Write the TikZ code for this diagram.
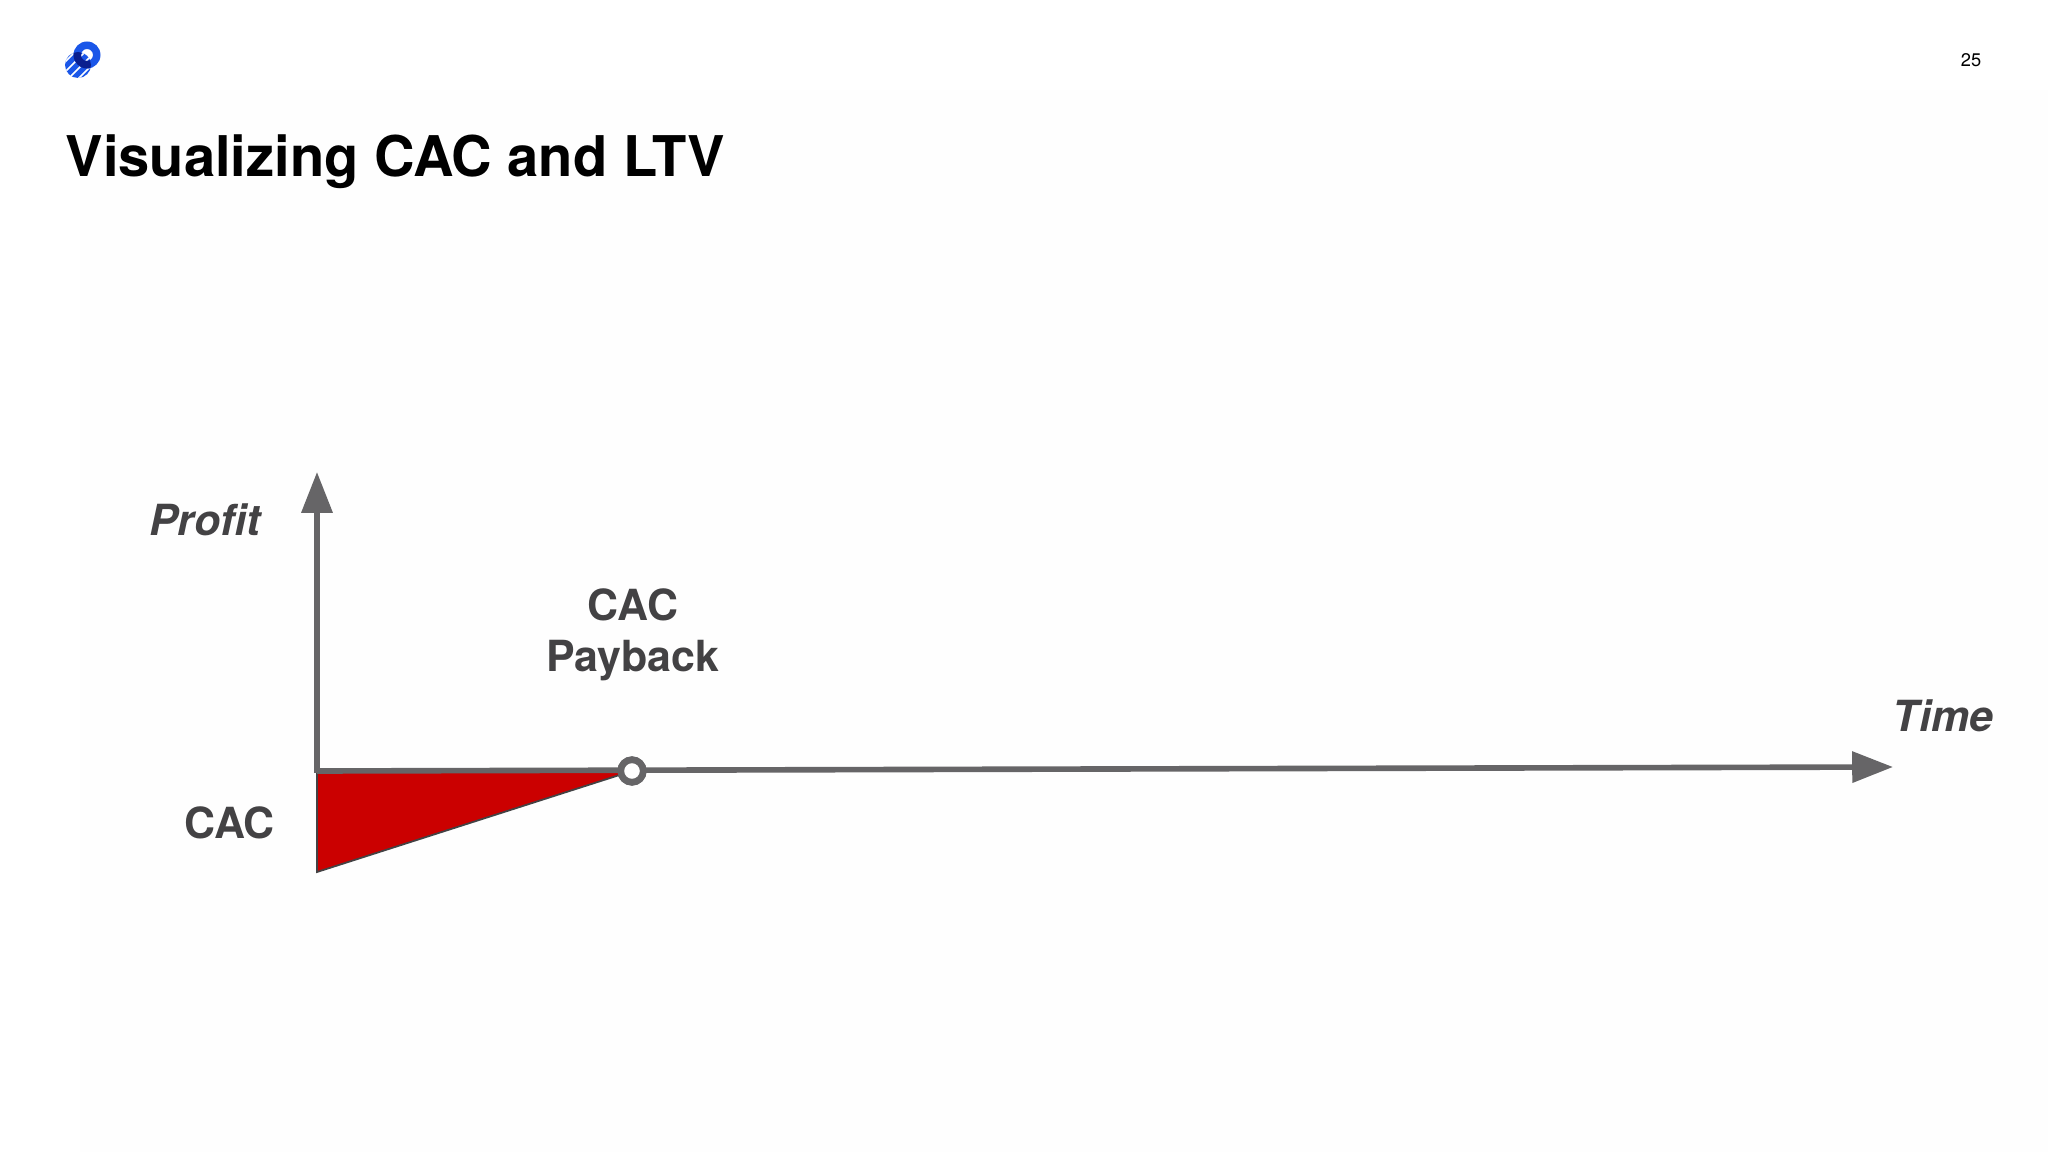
\documentclass[tikz,border=0pt]{standalone}
\usepackage{fontspec}
\setmainfont{TeX Gyre Heros}
\usetikzlibrary{arrows.meta}
\definecolor{axisgray}{HTML}{666567}
\definecolor{labelgray}{HTML}{434244}
\definecolor{cacred}{HTML}{CB0000}
\definecolor{logoblue}{HTML}{1A56E8}
\definecolor{logodark}{HTML}{0A1F8F}
\definecolor{slidegray}{HTML}{FEFEFE}
\tikzset{
  axis/.style = {draw = axisgray, line width = 1.6pt, -{Triangle[length = 11.6pt, width = 8.6pt]}},
  label/.style = {text = labelgray, font = \fontsize{12.2}{14.6}\selectfont\bfseries, align = center},
  axislabel/.style = {text = labelgray, font = \fontsize{12.2}{14.6}\selectfont\bfseries\itshape},
  ring/.style = {circle, draw = axisgray, fill = white, line width = 1.9pt, minimum size = 6.4pt, inner sep = 0},
}
\begin{document}
\begin{tikzpicture} [x = 0.01cm, y = -0.01cm]
\useasboundingbox (0, 0) rectangle (2048, 1152);
\fill[white] (0, 0) rectangle (2048, 1152);
\fill[slidegray] (80, 90) rectangle (2048, 1152);
% logo
\begin{scope}
\clip (78, 65) circle [radius = 13];
\fill[logoblue] (60, 45) rectangle (95, 82);
\foreach \i in {0, 1, 2, 3} {
\draw[white, line width = 0.5pt] (61 + 5*\i, 66 + 5*\i) -- (81 + 5*\i, 46 + 5*\i);
}
\end{scope}
\fill[logoblue, even odd rule] (87, 55) circle [radius = 13.5] (87, 55) circle [radius = 6];
\begin{scope}
\clip (78, 65) circle [radius = 13];
\fill[logodark, even odd rule] (87, 55) circle [radius = 13.5] (87, 55) circle [radius = 6];
\end{scope}
\node[inner sep = 0] (pagenum) at (1971, 60){\fontsize{5.2}{6}\selectfont 25};
\node[inner sep = 0, anchor = west] (title) at (65, 162){\fontsize{15.95}{20}\selectfont\bfseries Visualizing CAC and LTV};
% triangle under the axis
\coordinate (origin) at (317, 771);
\coordinate (low) at (317, 872);
\coordinate (timeend) at (1893, 767);
\coordinate (profitend) at (317, 472);
\node[ring] (payback) at (632, 771){};
\draw[fill = cacred, draw = labelgray, line width = 0.5pt, line join = miter] (origin) -- (payback.center) -- (low) -- cycle;
\draw[axis] (low |- origin) ++(0, 1.5) -- (profitend);
\draw[axis] (origin) -- (timeend);
\node[ring] at (payback.center){};
\node[axislabel] (profit) at (205, 520){Profit};
\node[axislabel] (time) at (1943, 716){Time};
\node[label] (cac) at (229.5, 823){CAC};
\node[label] (paybacklabel) at (633, 635){CAC\\Payback};
\end{tikzpicture}
\end{document}
